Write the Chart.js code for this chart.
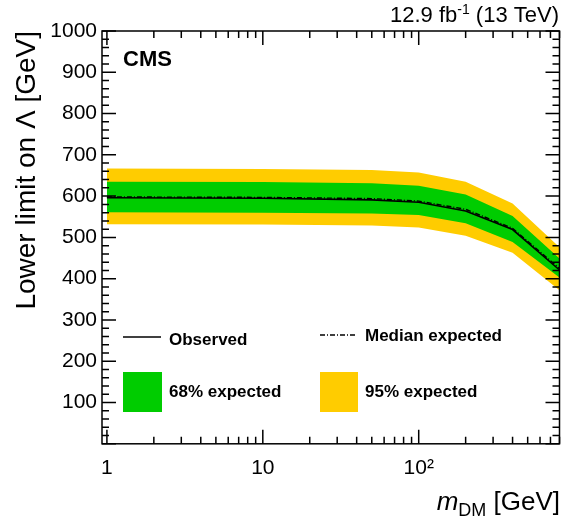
<!DOCTYPE html>
<html>
<head>
<meta charset="utf-8">
<script src="https://cdn.jsdelivr.net/npm/chart.js@4.4.1/dist/chart.umd.min.js"></script>
<style>
  html, body { margin: 0; padding: 0; background: #fff; }
  #wrap { width: 566px; height: 520px; }
</style>
</head>
<body>
<div id="wrap"><canvas id="myChart" width="566" height="520"></canvas></div>
<script>
// dark matter mass points [GeV] and limits on Lambda [GeV]
const masses = [1, 10, 50, 100, 200, 400, 800];
const observed = [596, 595, 591, 585, 564, 519, 421];
const expected = [598, 597, 594, 588, 568, 522, 425];
const band68Up = [635, 634, 631, 625, 604, 552, 449];
const band68Down = [561, 560, 558, 554, 534, 489, 403];
const band95Up = [667, 666, 663, 657, 635, 582, 476];
const band95Down = [532, 531, 529, 524, 504, 463, 372];
const xTicks = [1, 10, 100];
const xTickLabels = ["1", "10", "10²"];

const FONT = "'Liberation Sans', Arial, Helvetica, sans-serif";
const GREEN = "#00cc00";
const YELLOW = "#ffcc00";

const pts = ys => masses.map((m, i) => ({ x: m, y: ys[i] }));

// inside ticks, frame, legend and labels, ROOT style
const decorations = {
  id: "decorations",
  afterDatasetsDraw(chart) {
    const { ctx, chartArea: a, scales: { x, y } } = chart;
    ctx.save();
    ctx.strokeStyle = "#000";
    ctx.lineWidth = 1.5;
    ctx.beginPath();
    for (let v = 0; v <= 1000; v += 20) {
      const py = y.getPixelForValue(v);
      const len = v % 100 === 0 ? 14 : 7;
      ctx.moveTo(a.left, py); ctx.lineTo(a.left + len, py);
      ctx.moveTo(a.right, py); ctx.lineTo(a.right - len, py);
    }
    for (let d = 1; d <= 100; d *= 10) {
      for (let k = 1; k <= 9; k++) {
        const v = d * k;
        if (v < x.min || v > x.max) continue;
        const px = x.getPixelForValue(v);
        const len = k === 1 ? 14 : 7;
        ctx.moveTo(px, a.bottom); ctx.lineTo(px, a.bottom - len);
        ctx.moveTo(px, a.top); ctx.lineTo(px, a.top + len);
      }
    }
    ctx.stroke();
    ctx.strokeRect(a.left, a.top, a.right - a.left, a.bottom - a.top);

    // legend
    ctx.fillStyle = "#000";
    ctx.textBaseline = "alphabetic";
    ctx.textAlign = "left";
    ctx.font = "bold 17px " + FONT;
    ctx.lineWidth = 1.5;
    ctx.beginPath();
    ctx.moveTo(123, 337); ctx.lineTo(161, 337);
    ctx.stroke();
    ctx.fillText("Observed", 169, 345);
    ctx.setLineDash([5, 2, 1, 2]);
    ctx.beginPath();
    ctx.moveTo(320, 335); ctx.lineTo(357, 335);
    ctx.stroke();
    ctx.setLineDash([]);
    ctx.fillText("Median expected", 365, 341);
    ctx.fillStyle = GREEN;
    ctx.fillRect(123, 372, 39, 40);
    ctx.fillStyle = YELLOW;
    ctx.fillRect(320, 372, 38, 40);
    ctx.fillStyle = "#000";
    ctx.fillText("68% expected", 169, 397);
    ctx.fillText("95% expected", 365, 397);

    // CMS label
    ctx.font = "bold 22px " + FONT;
    ctx.fillText("CMS", 123, 66);

    // lumi label
    ctx.font = "22px " + FONT;
    ctx.textAlign = "right";
    const tail = " (13 TeV)";
    ctx.fillText(tail, 559, 22);
    let xr = 559 - ctx.measureText(tail).width;
    ctx.font = "14px " + FONT;
    ctx.fillText("-1", xr, 14);
    xr -= ctx.measureText("-1").width;
    ctx.font = "22px " + FONT;
    ctx.fillText("12.9 fb", xr, 22);

    // x axis title
    ctx.font = "26px " + FONT;
    const unit = " [GeV]";
    ctx.fillText(unit, 560, 510);
    xr = 560 - ctx.measureText(unit).width;
    ctx.font = "18px " + FONT;
    ctx.fillText("DM", xr, 516);
    xr -= ctx.measureText("DM").width;
    ctx.font = "italic 26px " + FONT;
    ctx.fillText("m", xr, 510);
    ctx.restore();
  }
};

const ctx = document.getElementById("myChart").getContext("2d");
new Chart(ctx, {
  type: "line",
  data: {
    datasets: [
      { label: "Observed", data: pts(observed), borderColor: "#000", borderWidth: 1.6, pointRadius: 0, fill: false },
      { label: "Median expected", data: pts(expected), borderColor: "#000", borderWidth: 1.4, borderDash: [5, 2, 1, 2], pointRadius: 0, fill: false },
      { label: "68% up", data: pts(band68Up), borderWidth: 0, pointRadius: 0, backgroundColor: GREEN, fill: "+1" },
      { label: "68% down", data: pts(band68Down), borderWidth: 0, pointRadius: 0, fill: false },
      { label: "95% up", data: pts(band95Up), borderWidth: 0, pointRadius: 0, backgroundColor: YELLOW, fill: "+1" },
      { label: "95% down", data: pts(band95Down), borderWidth: 0, pointRadius: 0, fill: false }
    ]
  },
  options: {
    responsive: false,
    animation: false,
    layout: { padding: { top: 31, right: 6.5, left: 0, bottom: 0 } },
    plugins: { legend: { display: false }, tooltip: { enabled: false } },
    scales: {
      x: {
        type: "logarithmic",
        min: 0.93,
        max: 800,
        grid: { display: false, drawTicks: false },
        border: { display: false },
        afterBuildTicks: scale => { scale.ticks = xTicks.map(v => ({ value: v })); },
        afterFit: scale => { scale.height = 76.2; },
        ticks: {
          color: "#000",
          padding: 12,
          maxRotation: 0,
          font: { family: FONT, size: 21 },
          callback: value => xTickLabels[xTicks.indexOf(value)]
        }
      },
      y: {
        min: 0,
        max: 1000,
        grid: { display: false, drawTicks: false },
        border: { display: false },
        afterFit: scale => { scale.width = 102; },
        title: {
          display: true,
          text: "Lower limit on Λ [GeV]",
          align: "end",
          color: "#000",
          font: { family: FONT, size: 28 },
          padding: { top: 10, bottom: 0 }
        },
        ticks: {
          color: "#000",
          padding: 5,
          stepSize: 100,
          font: { family: FONT, size: 21 },
          callback: v => (v === 0 ? "" : v)
        }
      }
    }
  },
  plugins: [decorations]
});
</script>
</body>
</html>
